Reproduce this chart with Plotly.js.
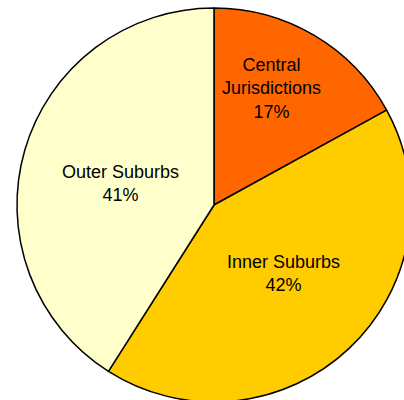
<!DOCTYPE html>
<html>
<head>
<meta charset="utf-8">
<script src="https://cdn.plot.ly/plotly-3.0.1.min.js"></script>
<style>
html, body { margin: 0; padding: 0; overflow: hidden; background: #fff; width: 404px; height: 400px; }
#chart { width: 430px; height: 420px; }
</style>
</head>
<body>
<div id="chart"></div>
<script>
var categories = ["Central<br>Jurisdictions", "Inner Suburbs", "Outer Suburbs"];
var shares = [17, 42, 41];
var sliceColors = ["#FF6600", "#FFCC00", "#FFFFCC"];

var W = 430, H = 420;
var cx = 214, cy = 205, r = 197;

// label anchor positions (pixels in the page) for each slice's text block
var labelPx = [[271, 88], [283, 273], [120, 183]];

var total = shares.reduce(function (a, b) { return a + b; }, 0);

var trace = {
  type: "pie",
  labels: categories,
  values: shares,
  sort: false,
  direction: "clockwise",
  rotation: 0,
  marker: { colors: sliceColors, line: { color: "#000000", width: 1.5 } },
  textinfo: "none",
  hoverinfo: "none",
  showlegend: false,
  domain: { x: [(cx - r) / W, (cx + r) / W], y: [(H - (cy + r)) / H, (H - (cy - r)) / H] }
};

var annotations = categories.map(function (c, i) {
  return {
    xref: "paper", yref: "paper",
    x: labelPx[i][0] / W, y: 1 - labelPx[i][1] / H,
    xanchor: "center", yanchor: "middle",
    showarrow: false,
    align: "center",
    text: c + "<br>" + Math.round(shares[i] / total * 100) + "%",
    font: { family: "Liberation Sans, Arial, sans-serif", size: 18, color: "#000000" }
  };
});

var layout = {
  width: W, height: H,
  margin: { l: 0, r: 0, t: 0, b: 0, pad: 0 },
  paper_bgcolor: "#ffffff",
  showlegend: false,
  annotations: annotations
};

Plotly.newPlot("chart", [trace], layout, { displayModeBar: false, staticPlot: true });
</script>
</body>
</html>
